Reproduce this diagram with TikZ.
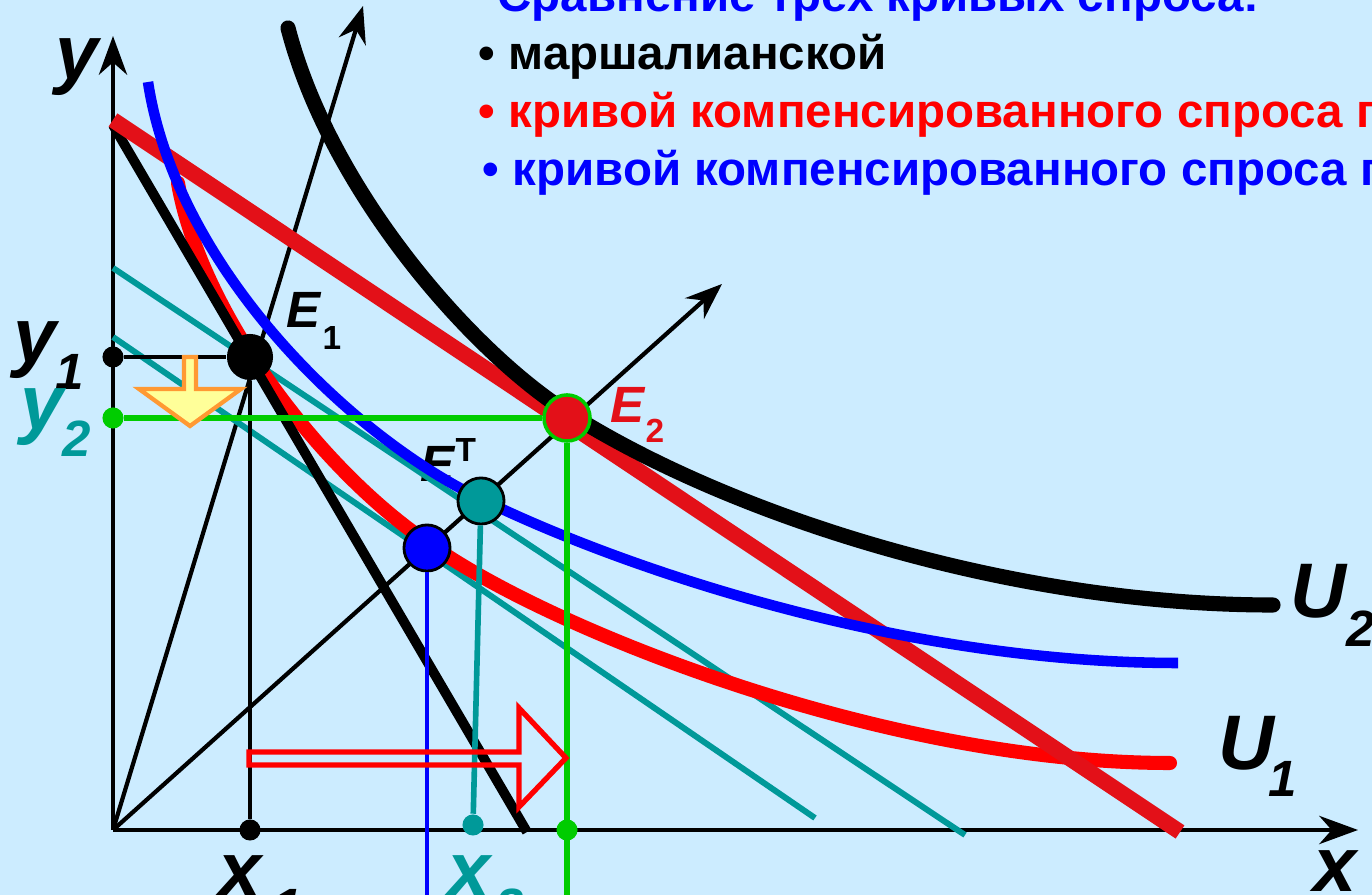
\documentclass[tikz,border=0pt]{standalone}
\usepackage{fontspec}
\setmainfont{Liberation Sans}
\usetikzlibrary{arrows.meta}

\definecolor{bgblue}{RGB}{204,236,255}
\definecolor{tealc}{RGB}{0,153,153}
\definecolor{greenc}{RGB}{0,204,0}
\definecolor{redline}{RGB}{227,16,24}
\definecolor{orangec}{RGB}{255,153,51}
\definecolor{yellowc}{RGB}{255,255,153}

\begin{document}
\begin{tikzpicture}[
  x=0.01cm, y=-0.01cm,
  axis/.style={line width=1.3pt, -{Stealth[length=11pt, width=8pt, inset=3.5pt]}},
  ray/.style={line width=1.2pt, -{Stealth[length=10.5pt, width=8pt, inset=3.5pt]}},
  eqpt/.style={circle, inner sep=0pt, minimum size=13.1pt},
  tick/.style={circle, inner sep=0pt, minimum size=6pt},
  lbl/.style={font=\bfseries\itshape\fontsize{22}{22}\selectfont, inner sep=0pt, anchor=base west},
  sublbl/.style={font=\bfseries\itshape\fontsize{14.5}{14.5}\selectfont, inner sep=0pt, anchor=base west},
  elbl/.style={font=\bfseries\itshape\fontsize{14.5}{14.5}\selectfont, inner sep=0pt, anchor=base west},
  esub/.style={font=\bfseries\fontsize{9.5}{9.5}\selectfont, inner sep=0pt, anchor=base west},
  head/.style={font=\bfseries\fontsize{13.5}{13.5}\selectfont, inner sep=0pt, anchor=base west}
]
% canvas
\fill[bgblue] (0,0) rectangle (1372,895);
\useasboundingbox (0,0) rectangle (1372,895);

% heading
\node[head, text=blue] (title) at (497,12) {Сравнение трех кривых спроса:};
\node[head] (marsh) at (478,70) {• маршалианской};
\node[head, text=red] (hicks) at (478,128) {• кривой компенсированного спроса п};
\node[head, text=blue] (slutsky) at (482,186) {• кривой компенсированного спроса п};

% axes and rays
\coordinate (O) at (113,830);
\draw[axis] (O) -- (113,36);
\draw[axis] (O) -- (1358,830);
\draw[ray] (O) -- (363,6);
\draw[ray] (O) -- (722,284);

% E^T label sits under the lines
\node[elbl] (lET) at (420,482) {E};
\node[esub] (lETs) at (455,462) {T};

% budget lines and indifference curves
\draw[tealc, line width=1.7pt] (113,268) -- (965,835);
\draw[tealc, line width=1.7pt] (113,337) -- (815,818);
\draw[red, line width=4pt, line cap=round] (178,183) .. controls (200,310) and (317,467) .. (427,542)
  .. controls (540,625) and (880,763) .. (1170,763);
\draw[line width=2.8pt] (113,125) -- (527,832);
\draw[redline, line width=4.5pt] (113,120) -- (1180,832);
\draw[line width=4.3pt, line cap=round] (288,28) .. controls (330,190) and (470,350) .. (567,412)
  .. controls (720,510) and (1000,605) .. (1273,605);
\draw[blue, line width=3pt] (148,82) .. controls (175,260) and (340,430) .. (481,499)
  .. controls (622,568) and (900,663) .. (1178,663);

% equilibrium points
\node[eqpt, fill=black] (E1) at (250,357) {};
\node[eqpt, fill=redline, draw=greenc, line width=1pt] (E2) at (567,418) {};
\node[eqpt, fill=tealc, draw=black, line width=0.8pt] (ET) at (481,501) {};
\node[eqpt, fill=blue, draw=black, line width=0.8pt] (EH) at (427,548) {};

% guide lines to the axes
\node[tick, fill=black] (y1) at (113,357) {};
\node[tick, fill=black] (x1) at (250,830) {};
\node[tick, fill=greenc] (y2) at (113,418) {};
\node[tick, fill=greenc] (x2) at (567,830) {};
\node[tick, fill=tealc] (xT) at (473,825) {};
\coordinate (xgreen) at (567,895);
\coordinate (xblue) at (427,895);
\draw[line width=1.2pt] (y1) -- (E1);
\draw[line width=1.2pt] (E1) -- (x1);
\draw[greenc, line width=1.6pt] (y2) -- (E2);
\draw[greenc, line width=1.6pt] (E2) -- (xgreen);
\draw[tealc, line width=1.6pt] (ET) -- (xT);
\draw[blue, line width=1.2pt] (EH) -- (xblue);

% shift arrows
\draw[orangec, fill=yellowc, line width=1.2pt] (184,357) -- (196,357) -- (196,389) -- (241,389) -- (190,426) -- (139,389) -- (184,389) -- cycle;
\draw[red, line width=1.5pt] (249,752) -- (519,752) -- (519,708) -- (566,758) -- (519,807) -- (519,765) -- (249,765) -- cycle;

% labels
\node[lbl] (ly) at (55,80) {y};
\node[lbl] (lx) at (1313,892) {x};
\node[lbl] (lU2) at (1290,618) {U};
\node[sublbl] (lU2s) at (1346,647) {2};
\node[lbl] (lU1) at (1218,770) {U};
\node[sublbl] (lU1s) at (1268,797) {1};
\node[lbl] (ly1) at (13,363) {y};
\node[sublbl] (ly1s) at (55,390) {1};
\node[lbl, text=tealc] (ly2) at (20,430) {y};
\node[sublbl, text=tealc] (ly2s) at (62,457) {2};
\node[lbl] (lx1) at (218,897) {x};
\node[sublbl] (lx1s) at (273,925) {1};
\node[lbl, text=tealc] (lx2) at (447,897) {x};
\node[sublbl, text=tealc] (lx2s) at (495,925) {2};
\node[elbl] (lE1) at (286,328) {E};
\node[esub] (lE1s) at (322,350) {1};
\node[elbl, text=redline] (lE2) at (610,423) {E};
\node[esub, text=redline] (lE2s) at (645,443) {2};
\end{tikzpicture}
\end{document}
